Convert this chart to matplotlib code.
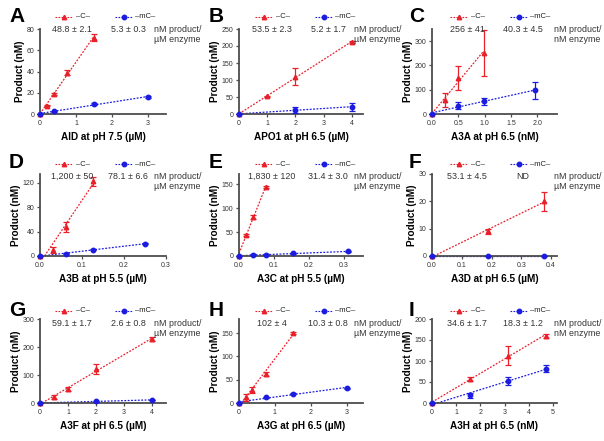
import numpy as np
import matplotlib.pyplot as plt
from matplotlib.lines import Line2D
from matplotlib.ticker import FormatStrFormatter

plt.rcParams['font.family'] = ['Liberation Sans', 'DejaVu Sans']

W, H = 604, 441
RED = '#e8202a'
BLUE = '#1c1ce0'
AXC = '#4d4d4d'

# A: AID
a_xc = [0, 0.1875, 0.375, 0.75, 1.5]
a_yc = [0, 8, 19, 39, 72]
a_ec = [0, 0.8, 1.0, 2.5, 3.0]
a_xm = [0, 0.375, 1.5, 3]
a_ym = [0, 2.5, 9.5, 16]
a_em = [0, 0.6, 0.8, 0.8]
# B: APO1
b_xc = [0, 1, 2, 4]
b_yc = [0, 52, 110, 212]
b_ec = [0, 2, 25, 2]
b_xm = [0, 2, 4]
b_ym = [0, 12, 21]
b_em = [0, 10, 12]
# C: A3A
c_xc = [0, 0.244, 0.488, 0.977]
c_yc = [0, 57, 148, 252]
c_ec = [0, 28, 50, 95]
c_xm = [0, 0.488, 0.977, 1.953]
c_ym = [0, 35, 52, 97]
c_em = [0, 15, 15, 35]
# D: A3B
d_xc = [0, 0.03125, 0.0625, 0.125]
d_yc = [0, 10, 47, 122]
d_ec = [0, 5, 8, 7]
d_xm = [0, 0.0625, 0.125, 0.25]
d_ym = [0, 4, 10.5, 20]
d_em = [0, 0.8, 0.8, 1]
# E: A3C
e_xc = [0, 0.0195, 0.039, 0.078]
e_yc = [0, 45, 82, 145]
e_ec = [0, 2, 5, 2]
e_xm = [0, 0.039, 0.078, 0.156, 0.3125]
e_ym = [0, 2.5, 2.5, 5.5, 9.5]
e_em = [0, 0.8, 0.8, 0.8, 0.8]
# F: A3D
f_xc = [0, 0.1875, 0.375]
f_yc = [0, 9, 20]
f_ec = [0, 1, 3.5]
f_xm = [0, 0.1875, 0.375]
f_ym = [0, 0, 0]
f_em = [0, 0, 0]
# G: A3F
g_xc = [0, 0.5, 1, 2, 4]
g_yc = [0, 20, 50, 120, 230]
g_ec = [0, 7, 6, 18, 7]
g_xm = [0, 2, 4]
g_ym = [0, 6, 11]
g_em = [0, 1, 1]
# H: A3G
h_xc = [0, 0.1875, 0.375, 0.75, 1.5]
h_yc = [0, 12, 28, 62, 150]
h_ec = [0, 8, 6, 5, 2]
h_xm = [0, 0.75, 1.5, 3]
h_ym = [0, 12, 20, 32]
h_em = [0, 1, 1, 1]
# I: A3H
i_xc = [0, 1.5625, 3.125, 4.6875]
i_yc = [0, 57, 113, 160]
i_ec = [0, 4, 22, 5]
i_xm = [0, 1.5625, 3.125, 4.6875]
i_ym = [0, 18, 52, 82]
i_em = [0, 6, 10, 8]

letters = ['A', 'B', 'C', 'D', 'E', 'F', 'G', 'H', 'I']
xlabels = ['AID at pH 7.5 (µM)', 'APO1 at pH 6.5 (µM)', 'A3A at pH 6.5 (nM)',
           'A3B at pH 5.5 (µM)', 'A3C at pH 5.5 (µM)', 'A3D at pH 6.5 (µM)',
           'A3F at pH 6.5 (µM)', 'A3G at pH 6.5 (µM)', 'A3H at pH 6.5 (nM)']
rate_c = ['48.8 ± 2.1', '53.5 ± 2.3', '256 ± 41', '1,200 ± 50', '1,830 ± 120',
          '53.1 ± 4.5', '59.1 ± 1.7', '102 ± 4', '34.6 ± 1.7']
rate_m = ['5.3 ± 0.3', '5.2 ± 1.7', '40.3 ± 4.5', '78.1 ± 6.6', '31.4 ± 3.0',
          'ND', '2.6 ± 0.8', '10.3 ± 0.8', '18.3 ± 1.2']
units = ['µM', 'µM', 'nM', 'µM', 'µM', 'µM', 'µM', 'µM', 'nM']
xlims = [3.5, 4.4, 2.37, 0.3, 0.355, 0.42, 4.5, 3.46, 5.16]
xticks = [[0, 1, 2, 3], [0, 1, 2, 3, 4], [0, 0.5, 1.0, 1.5, 2.0],
          [0, 0.1, 0.2, 0.3], [0, 0.1, 0.2, 0.3], [0, 0.1, 0.2, 0.3, 0.4],
          [0, 1, 2, 3, 4], [0, 1, 2, 3], [0, 1, 2, 3, 4, 5]]
xfmts = ['%d', '%d', '%.1f', '%.1f', '%.1f', '%.1f', '%d', '%d', '%d']
ylims = [80, 250, 350, 134, 172, 30, 300, 180, 200]
yticks = [[0, 20, 40, 60, 80], [0, 50, 100, 150, 200, 250], [0, 100, 200, 300],
          [0, 40, 80, 120], [0, 50, 100, 150], [0, 10, 20, 30],
          [0, 100, 200, 300], [0, 50, 100, 150], [0, 50, 100, 150, 200]]

data = [(a_xc, a_yc, a_ec, a_xm, a_ym, a_em), (b_xc, b_yc, b_ec, b_xm, b_ym, b_em),
        (c_xc, c_yc, c_ec, c_xm, c_ym, c_em), (d_xc, d_yc, d_ec, d_xm, d_ym, d_em),
        (e_xc, e_yc, e_ec, e_xm, e_ym, e_em), (f_xc, f_yc, f_ec, f_xm, f_ym, f_em),
        (g_xc, g_yc, g_ec, g_xm, g_ym, g_em), (h_xc, h_yc, h_ec, h_xm, h_ym, h_em),
        (i_xc, i_yc, i_ec, i_xm, i_ym, i_em)]

# panel geometry in pixels
col_left = [40, 239, 432]
col_right = [166, 363, 557]
row_top = [29, 174, 319]
row_bot = [114, 256, 403]


def fpos(x, y):
    return x / W, 1 - y / H


def fit_line(ax, x, y, color):
    x = np.asarray(x, float)
    y = np.asarray(y, float)
    m, b = np.polyfit(x, y, 1)
    x0 = -b / m if (m > 0 and b < 0) else 0
    xs = np.array([x0, x.max()])
    ax.plot(xs, m * xs + b if x0 == 0 else m * (xs - x0), color=color, lw=0.9,
            ls=(0, (1.5, 1.2)), zorder=2, clip_on=False)


fig = plt.figure(figsize=(W / 100, H / 100), dpi=100)

for k in range(9):
    r, c = divmod(k, 3)
    l, rr, t, bt = col_left[c], col_right[c], row_top[r], row_bot[r]
    ax = fig.add_axes([l / W, 1 - bt / H, (rr - l) / W, (bt - t) / H])
    xc, yc, ec, xm, ym, em = data[k]

    fit_line(ax, xc, yc, RED)
    fit_line(ax, xm, ym, BLUE)
    ax.errorbar(xc, yc, yerr=ec, fmt='none', ecolor=RED, elinewidth=0.9,
                capsize=2.2, capthick=0.9, zorder=3, clip_on=False)
    ax.errorbar(xm, ym, yerr=em, fmt='none', ecolor=BLUE, elinewidth=0.9,
                capsize=2.2, capthick=0.9, zorder=3, clip_on=False)
    ax.plot(xc, yc, '^', color=RED, ms=3.2, ls='none', zorder=4, clip_on=False)
    ax.plot(xm, ym, 'o', color=BLUE, ms=3.2, ls='none', zorder=4, clip_on=False)

    ax.set_xlim(0, xlims[k])
    ax.set_ylim(0, ylims[k])
    ax.set_xticks(xticks[k])
    ax.set_yticks(yticks[k])
    ax.xaxis.set_major_formatter(FormatStrFormatter(xfmts[k]))
    for s in ['top', 'right']:
        ax.spines[s].set_visible(False)
    for s in ['left', 'bottom']:
        ax.spines[s].set_color(AXC)
        ax.spines[s].set_linewidth(1.3)
    ax.tick_params(colors=AXC, labelcolor='#333333', labelsize=5, width=0.9,
                   length=2.5, pad=1.5)
    ax.set_xlabel(xlabels[k], fontsize=7.2, fontweight='bold', labelpad=4)
    ax.set_ylabel('Product (nM)', fontsize=7.2, fontweight='bold', labelpad=1)

    # panel letter and header texts
    ox, oy = c * 200, r * 147
    dx = -5 if c == 2 else 0
    fig.text(*fpos(ox + 9, oy + 16), letters[k], fontsize=15, fontweight='bold',
             ha='left', va='center')
    fig.add_artist(Line2D([(ox + 55 + dx) / W, (ox + 73 + dx) / W],
                          [1 - (oy + 17) / H] * 2, color=RED, lw=0.8,
                          ls=(0, (1.5, 1.2)), transform=fig.transFigure))
    fig.add_artist(Line2D([(ox + 64 + dx) / W], [1 - (oy + 17) / H], marker='^',
                          ms=3.2, color=RED, transform=fig.transFigure))
    fig.text(*fpos(ox + 76 + dx, oy + 17), '–C–', fontsize=5.5, ha='left',
             va='center', color='#222222')
    fig.add_artist(Line2D([(ox + 115 + dx) / W, (ox + 133 + dx) / W],
                          [1 - (oy + 17) / H] * 2, color=BLUE, lw=0.8,
                          ls=(0, (1.5, 1.2)), transform=fig.transFigure))
    fig.add_artist(Line2D([(ox + 124 + dx) / W], [1 - (oy + 17) / H], marker='o',
                          ms=3.2, color=BLUE, transform=fig.transFigure))
    fig.text(*fpos(ox + 135 + dx, oy + 17), '–mC–', fontsize=5.5, ha='left',
             va='center', color='#222222')
    fig.text(*fpos(ox + 72 + dx, oy + 29), rate_c[k], fontsize=6.4, ha='center',
             va='center', color='#333333')
    fig.text(*fpos(ox + 128 + dx, oy + 29), rate_m[k], fontsize=6.4, ha='center',
             va='center', color='#333333')
    fig.text(*fpos(ox + 154, oy + 29), 'nM product/', fontsize=6.4, ha='left',
             va='center', color='#333333')
    fig.text(*fpos(ox + 154, oy + 40), units[k] + ' enzyme', fontsize=6.4,
             ha='left', va='center', color='#333333')

fig.savefig('out.png', dpi=100)
